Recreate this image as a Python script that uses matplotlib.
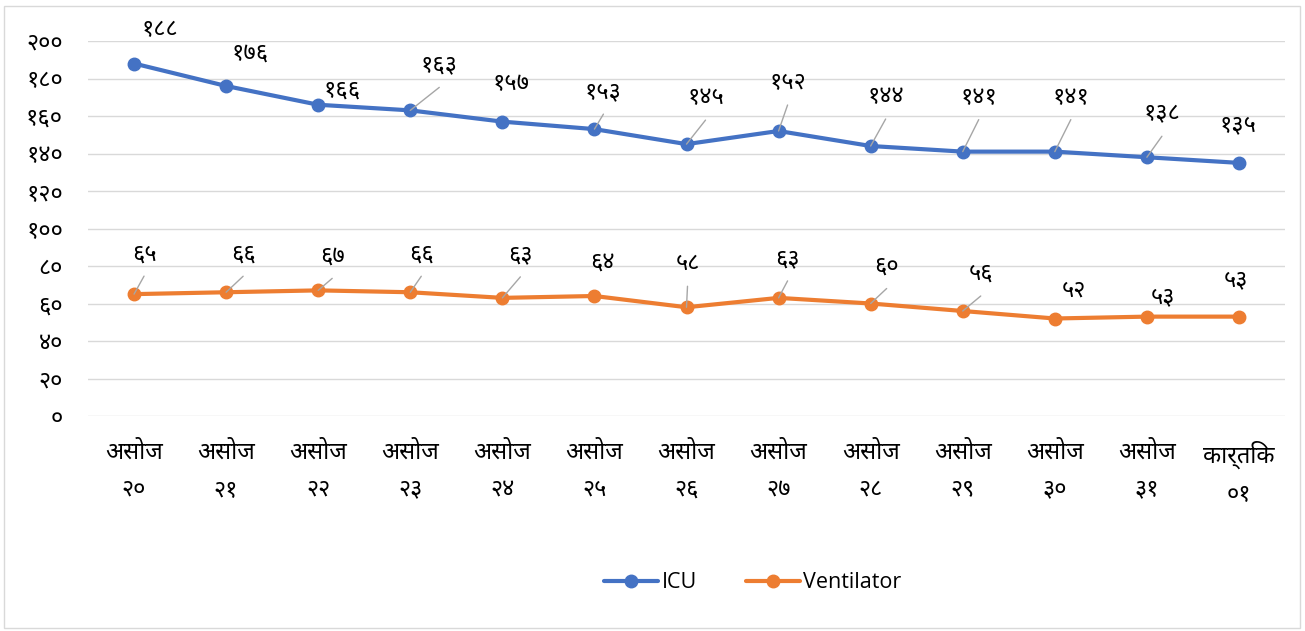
import matplotlib
matplotlib.use("Agg")
import matplotlib.pyplot as plt
from matplotlib import font_manager
from matplotlib.ft2font import FT2Font
from matplotlib.patches import Rectangle

# ---------------- data ----------------
categories = ["असोज\n२०", "असोज\n२१", "असोज\n२२", "असोज\n२३", "असोज\n२४",
              "असोज\n२५", "असोज\n२६", "असोज\n२७", "असोज\n२८", "असोज\n२९",
              "असोज\n३०", "असोज\n३१", "कार्तिक\n०१"]
icu = [188, 176, 166, 163, 157, 153, 145, 152, 144, 141, 141, 138, 135]
ventilator = [65, 66, 67, 66, 63, 64, 58, 63, 60, 56, 52, 53, 53]
y_ticks = [0, 20, 40, 60, 80, 100, 120, 140, 160, 180, 200]
series_names = ["ICU", "Ventilator"]

# ---------------- label layout (pixel offsets from each point) ----------------
icu_lbl_dx = [26, 24, 24, 29, 9, 9, 19, 9, 15, 16, 16, 15, -1]
icu_lbl_dy = [33, 32, 14, 45, 38, 37, 46, 48, 49, 54, 54, 43, 38]
icu_leader = [0, 0, 0, 1, 0, 1, 1, 1, 1, 1, 1, 1, 0]
ven_lbl_dx = [10, 17, 14, 11, 18, 8, 1, 9, 16, 18, 19, 16, -3]
ven_lbl_dy = [40, 38, 34, 38, 43, 33, 43, 39, 37, 37, 28, 19, 36]
ven_leader = [1, 1, 1, 1, 1, 0, 1, 1, 1, 1, 0, 0, 0]

DEV = str.maketrans("0123456789", "०१२३४५६७८९")


def to_dev(n):
    return str(n).translate(DEV)


def find_fonts(chars):
    found = []
    for fe in font_manager.fontManager.ttflist:
        try:
            cmap = FT2Font(fe.fname).get_charmap()
        except Exception:
            continue
        if all(ord(c) in cmap for c in chars):
            if fe.name not in found:
                found.append(fe.name)
    return found


deva_fonts = find_fonts("असोजकर्तिक०१२")
preferred = ["Noto Sans Devanagari", "Noto Sans Devanagari UI", "Hind",
             "Mukta", "Ek Mukta", "Lohit Devanagari", "FreeSans"]
deva = next((f for f in preferred if f in deva_fonts),
            deva_fonts[0] if deva_fonts else "DejaVu Sans")
DFAM = [deva, "DejaVu Sans"]
LATIN = "Open Sans"

BLUE = "#4472C4"
ORANGE = "#ED7D31"
GRID = "#D9D9D9"

W, H = 1305, 631
fig = plt.figure(figsize=(W / 100, H / 100), dpi=100)
fig.patch.set_facecolor("white")

# chart border
fig.add_artist(Rectangle((4 / W, 1 - 628 / H), (1300 - 4) / W, (628 - 6) / H,
                         transform=fig.transFigure, fill=False,
                         edgecolor=GRID, linewidth=1.0))

ax = fig.add_axes([88 / W, 1 - 416 / H, (1285 - 88) / W, (416 - 41) / H])
x = list(range(len(categories)))
ax.set_xlim(-0.5, len(categories) - 0.5)
ax.set_ylim(0, 200)
for s in ax.spines.values():
    s.set_visible(False)
ax.set_yticks(y_ticks)
ax.set_yticklabels([to_dev(v) for v in y_ticks], family=DFAM, fontsize=17)
ax.set_xticks(x)
ax.set_xticklabels(categories, family=DFAM, fontsize=17)
for t in ax.get_xticklabels():
    t.set_linespacing(1.7)
ax.tick_params(axis="y", length=0, pad=18)
ax.tick_params(axis="x", length=0, pad=18)
ax.grid(axis="y", color=GRID, linewidth=1.0)
ax.set_axisbelow(True)

ax.plot(x, icu, color=BLUE, linewidth=3, marker="o", markersize=9,
        label=series_names[0], solid_capstyle="round", zorder=3)
ax.plot(x, ventilator, color=ORANGE, linewidth=3, marker="o", markersize=9,
        label=series_names[1], solid_capstyle="round", zorder=3)


def add_labels(vals, dxs, dys, leaders):
    for i, v in enumerate(vals):
        ax.annotate(to_dev(v), (x[i], v), xytext=(dxs[i], dys[i]),
                    textcoords="offset pixels", ha="center", va="center",
                    family=DFAM, fontsize=17, zorder=5)
        if leaders[i]:
            ax.annotate("", (x[i], v), xytext=(dxs[i], dys[i] - 22),
                        textcoords="offset pixels",
                        arrowprops=dict(arrowstyle="-", color="#A6A6A6",
                                        linewidth=1.0, shrinkA=0, shrinkB=0),
                        zorder=4)


add_labels(icu, icu_lbl_dx, icu_lbl_dy, icu_leader)
add_labels(ventilator, ven_lbl_dx, ven_lbl_dy, ven_leader)

leg = fig.legend(loc="center", bbox_to_anchor=(753 / W, 1 - 583 / H), ncol=2,
                 frameon=False, prop={"family": LATIN, "size": 15.5},
                 handlelength=2.5, handletextpad=0.15, columnspacing=2.3)

fig.savefig("out.png", dpi=100)
